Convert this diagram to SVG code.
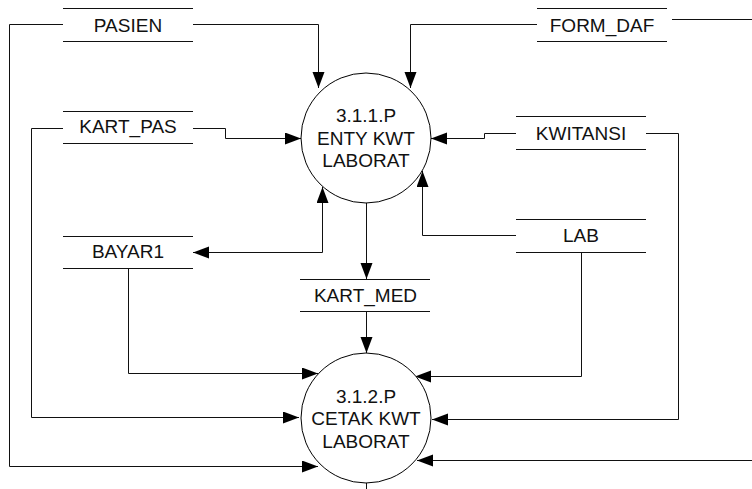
<svg xmlns="http://www.w3.org/2000/svg" width="752" height="489" viewBox="0 0 752 489">
  <defs>
    <marker id="arrow" markerUnits="userSpaceOnUse" markerWidth="17" markerHeight="13" refX="16" refY="6" orient="auto-start-reverse">
      <path d="M0,0 L16,6 L0,12 z" fill="#000"/>
    </marker>
    <style>
      .store line { stroke: #111; stroke-width: 1; }
      .proc circle { fill: #fff; stroke: #000; stroke-width: 1; }
      text { font-family: "Liberation Sans", Arial, sans-serif; font-size: 19px; fill: #111; text-anchor: middle; }
      .flow path { fill: none; stroke: #111; stroke-width: 1; }
      .flow path.arr { marker-end: url(#arrow); }
    </style>
  </defs>
  <rect width="752" height="489" fill="#fff"/>

  <!-- data flows -->
  <g id="connectors" class="flow">
    <path class="arr" d="M63,24.5 H9.5 V466.5 H318"/>
    <path class="arr" d="M193,24.5 H318.5 V88"/>
    <path class="arr" d="M537,24.5 H410.5 V88"/>
    <path d="M672,19.5 H752"/>
    <path class="arr" d="M752,460.5 H417"/>
    <path class="arr" d="M63,128.5 H31.5 V417.5 H299"/>
    <path class="arr" d="M193,128.5 H225.5 V138.5 H301"/>
    <path d="M322.5,187 V252.5 H193" marker-start="url(#arrow)" marker-end="url(#arrow)"/>
    <path class="arr" d="M128.5,268 V373.5 H318"/>
    <path class="arr" d="M516,133.5 H484.5 V138.5 H431"/>
    <path class="arr" d="M646,133.5 H678.5 V419.5 H432"/>
    <path class="arr" d="M516,235.5 H422.5 V171"/>
    <path class="arr" d="M581.5,252 V376.5 H415"/>
    <path class="arr" d="M366.5,203 V279"/>
    <path class="arr" d="M366.5,311 V353"/>
    <path d="M366.5,483 V489"/>
  </g>

  <!-- data stores -->
  <g id="store-pasien" class="store">
    <line x1="63" y1="8.5" x2="193" y2="8.5"/>
    <line x1="63" y1="41.5" x2="193" y2="41.5"/>
    <text x="128" y="31.5">PASIEN</text>
  </g>
  <g id="store-form-daf" class="store">
    <line x1="537" y1="8.5" x2="667" y2="8.5"/>
    <line x1="537" y1="41.5" x2="667" y2="41.5"/>
    <text x="602" y="31.5">FORM_DAF</text>
  </g>
  <g id="store-kart-pas" class="store">
    <line x1="63" y1="111.5" x2="193" y2="111.5"/>
    <line x1="63" y1="143.5" x2="193" y2="143.5"/>
    <text x="128" y="133">KART_PAS</text>
  </g>
  <g id="store-bayar1" class="store">
    <line x1="63" y1="236.5" x2="193" y2="236.5"/>
    <line x1="63" y1="268.5" x2="193" y2="268.5"/>
    <text x="128" y="257.5">BAYAR1</text>
  </g>
  <g id="store-kwitansi" class="store">
    <line x1="516" y1="116.5" x2="646" y2="116.5"/>
    <line x1="516" y1="149.5" x2="646" y2="149.5"/>
    <text x="581" y="139.5">KWITANSI</text>
  </g>
  <g id="store-lab" class="store">
    <line x1="516" y1="219.5" x2="646" y2="219.5"/>
    <line x1="516" y1="252.5" x2="646" y2="252.5"/>
    <text x="581" y="242">LAB</text>
  </g>
  <g id="store-kart-med" class="store">
    <line x1="300" y1="279.5" x2="430" y2="279.5"/>
    <line x1="300" y1="311.5" x2="430" y2="311.5"/>
    <text x="365.5" y="302">KART_MED</text>
  </g>

  <!-- processes -->
  <g id="proc-3-1-1" class="proc">
    <circle cx="366" cy="138" r="65"/>
    <text x="366" y="121.5">3.1.1.P</text>
    <text x="366" y="144.5">ENTY KWT</text>
    <text x="366" y="167">LABORAT</text>
  </g>
  <g id="proc-3-1-2" class="proc">
    <circle cx="366" cy="418" r="65"/>
    <text x="366" y="402.5">3.1.2.P</text>
    <text x="366" y="425">CETAK KWT</text>
    <text x="366" y="448">LABORAT</text>
  </g>
</svg>
